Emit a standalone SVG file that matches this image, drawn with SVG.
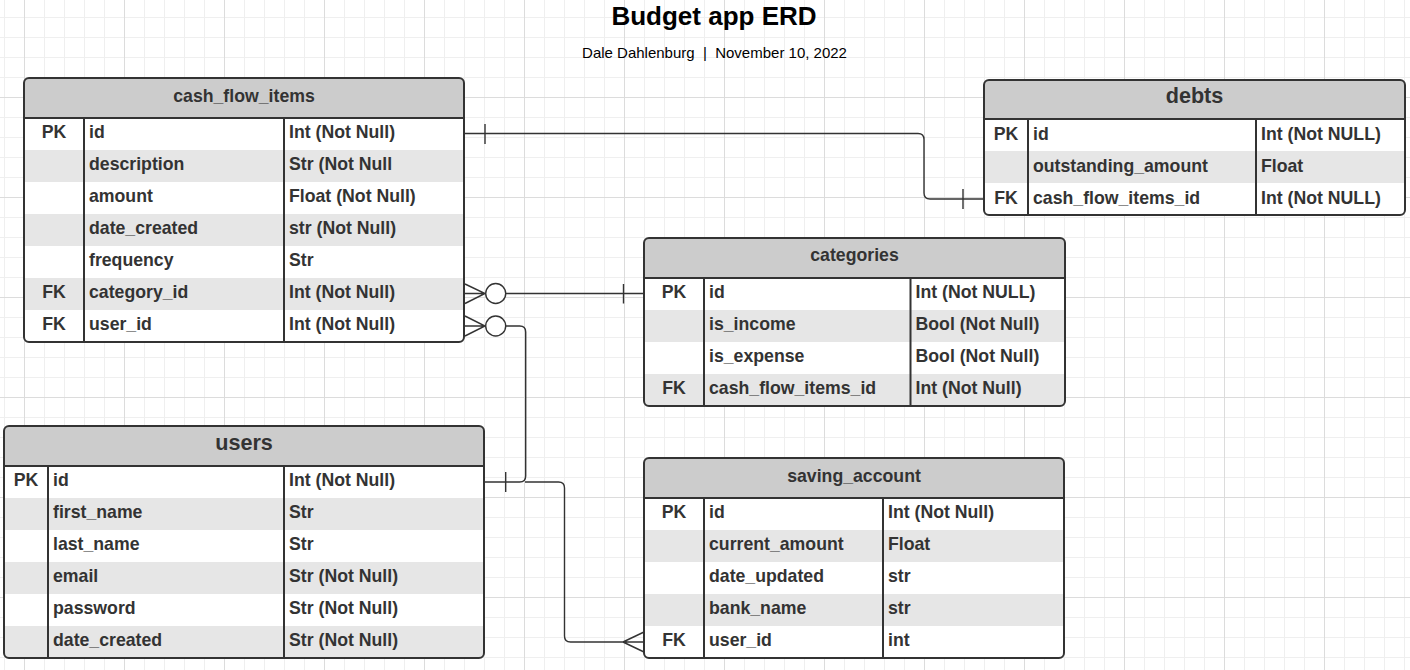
<svg xmlns="http://www.w3.org/2000/svg" width="1410" height="670" viewBox="0 0 1410 670">
<style>
.hdr{fill:#cccccc}
.alt{fill:#e6e6e6}
.frame{fill:none;stroke:#333;stroke-width:2}
.dv{stroke:#333;stroke-width:2;fill:none}
.t{font-family:"Liberation Sans",Arial,sans-serif;font-weight:bold;font-size:17.7px;fill:#333}
.big{font-size:21.6px}
.c{text-anchor:middle}
.conn{fill:none;stroke:#333;stroke-width:1.4}
.circ{fill:#fff;stroke:#333;stroke-width:1.4}
</style>
<defs>
<pattern id="minor" x="4" y="17" width="20" height="20" patternUnits="userSpaceOnUse">
<path d="M0.5 0V20M0 0.5H20" stroke="#efefef" stroke-width="1" fill="none"/>
</pattern>
<pattern id="major" x="24" y="97" width="100" height="100" patternUnits="userSpaceOnUse">
<path d="M0.5 0V100M0 0.5H100" stroke="#dcdcdc" stroke-width="1" fill="none"/>
</pattern>
<clipPath id="cpCash"><rect x="24" y="78" width="440" height="264" rx="5"/></clipPath>
<clipPath id="cpDebts"><rect x="984" y="80" width="421" height="135" rx="5"/></clipPath>
<clipPath id="cpCat"><rect x="644" y="238" width="421" height="168" rx="5"/></clipPath>
<clipPath id="cpUsers"><rect x="4" y="426" width="480" height="232" rx="5"/></clipPath>
<clipPath id="cpSave"><rect x="644" y="458" width="420" height="200" rx="5"/></clipPath>
</defs>
<rect width="1410" height="670" fill="#fff"/>
<rect width="1410" height="670" fill="url(#minor)"/>
<rect width="1410" height="670" fill="url(#major)"/>

<g id="title">
<text x="714" y="25" text-anchor="middle" style="font-family:'Liberation Sans',Arial,sans-serif;font-weight:bold;font-size:26px;fill:#000">Budget app ERD</text>
<text x="714.5" y="58" text-anchor="middle" style="font-family:'Liberation Sans',Arial,sans-serif;font-size:15px;fill:#000">Dale Dahlenburg &#160;|&#160; November 10, 2022</text>
</g>

<g id="connectors">
<!-- cash_flow_items.id to debts.cash_flow_items_id -->
<path class="conn" d="M464 133.5H918Q924 133.5 924 139.5V193Q924 199 930 199H984"/>
<path class="conn" d="M485 124V144M963 189V209"/>
<!-- cash_flow_items.category_id to categories.id -->
<path class="conn" d="M465 284L485 293.5L465 303.5M465 293.5H485M506 293.5H644M623.5 284V303.5"/>
<circle class="circ" cx="495.7" cy="293.5" r="10"/>
<!-- cash_flow_items.user_id to users.id -->
<path class="conn" d="M465 316L485 326L465 336M465 326H485M505.7 326H519.7Q525.7 326 525.7 332V476Q525.7 482 519.7 482H484"/>
<circle class="circ" cx="495.7" cy="326" r="10"/>
<path class="conn" d="M505.7 472V492"/>
<!-- users.id to saving_account.user_id -->
<path class="conn" d="M525 482H558.5Q564.5 482 564.5 488V636Q564.5 642 570.5 642H644M623 642L644 632M623 642L644 652"/>
</g>

<g id="cash_flow_items">
<rect x="24" y="78" width="440" height="264" rx="5" fill="#fff"/>
<g clip-path="url(#cpCash)">
<rect class="hdr" x="24" y="78" width="440" height="40"/>
<rect class="alt" x="24" y="150" width="440" height="32"/>
<rect class="alt" x="24" y="214" width="440" height="32"/>
<rect class="alt" x="24" y="278" width="440" height="32"/>
</g>
<path class="dv" d="M24 118H464M84 118V342M284 118V342"/>
<rect class="frame" x="24" y="78" width="440" height="264" rx="5"/>
<text class="t c" x="244" y="101.7">cash_flow_items</text>
<text class="t c" x="54" y="137.7">PK</text><text class="t" x="89" y="137.7">id</text><text class="t" x="289" y="137.7">Int (Not Null)</text>
<text class="t" x="89" y="169.7">description</text><text class="t" x="289" y="169.7">Str (Not Null</text>
<text class="t" x="89" y="201.7">amount</text><text class="t" x="289" y="201.7">Float (Not Null)</text>
<text class="t" x="89" y="233.7">date_created</text><text class="t" x="289" y="233.7">str (Not Null)</text>
<text class="t" x="89" y="265.7">frequency</text><text class="t" x="289" y="265.7">Str</text>
<text class="t c" x="54" y="297.7">FK</text><text class="t" x="89" y="297.7">category_id</text><text class="t" x="289" y="297.7">Int (Not Null)</text>
<text class="t c" x="54" y="329.7">FK</text><text class="t" x="89" y="329.7">user_id</text><text class="t" x="289" y="329.7">Int (Not Null)</text>
</g>

<g id="debts">
<rect x="984" y="80" width="421" height="135" rx="5" fill="#fff"/>
<g clip-path="url(#cpDebts)">
<rect class="hdr" x="984" y="80" width="421" height="39"/>
<rect class="alt" x="984" y="151" width="421" height="32"/>
</g>
<path class="dv" d="M984 119H1405M1028 119V215M1256 119V215"/>
<rect class="frame" x="984" y="80" width="421" height="135" rx="5"/>
<text class="t big c" x="1194.5" y="103.3">debts</text>
<text class="t c" x="1006" y="139.7">PK</text><text class="t" x="1033" y="139.7">id</text><text class="t" x="1261" y="139.7">Int (Not NULL)</text>
<text class="t" x="1033" y="171.7">outstanding_amount</text><text class="t" x="1261" y="171.7">Float</text>
<text class="t c" x="1006" y="203.7">FK</text><text class="t" x="1033" y="203.7">cash_flow_items_id</text><text class="t" x="1261" y="203.7">Int (Not NULL)</text>
</g>

<g id="categories">
<rect x="644" y="238" width="421" height="168" rx="5" fill="#fff"/>
<g clip-path="url(#cpCat)">
<rect class="hdr" x="644" y="238" width="421" height="40"/>
<rect class="alt" x="644" y="310" width="421" height="32"/>
<rect class="alt" x="644" y="374" width="421" height="32"/>
</g>
<path class="dv" d="M644 278H1065M704 278V406M910.5 278V406"/>
<rect class="frame" x="644" y="238" width="421" height="168" rx="5"/>
<text class="t c" x="854.5" y="261">categories</text>
<text class="t c" x="674" y="297.7">PK</text><text class="t" x="709" y="297.7">id</text><text class="t" x="915.5" y="297.7">Int (Not NULL)</text>
<text class="t" x="709" y="329.7">is_income</text><text class="t" x="915.5" y="329.7">Bool (Not Null)</text>
<text class="t" x="709" y="361.7">is_expense</text><text class="t" x="915.5" y="361.7">Bool (Not Null)</text>
<text class="t c" x="674" y="393.7">FK</text><text class="t" x="709" y="393.7">cash_flow_items_id</text><text class="t" x="915.5" y="393.7">Int (Not Null)</text>
</g>

<g id="users">
<rect x="4" y="426" width="480" height="232" rx="5" fill="#fff"/>
<g clip-path="url(#cpUsers)">
<rect class="hdr" x="4" y="426" width="480" height="40"/>
<rect class="alt" x="4" y="498" width="480" height="32"/>
<rect class="alt" x="4" y="562" width="480" height="32"/>
<rect class="alt" x="4" y="626" width="480" height="32"/>
</g>
<path class="dv" d="M4 466H484M48 466V658M284 466V658"/>
<rect class="frame" x="4" y="426" width="480" height="232" rx="5"/>
<text class="t big c" x="244" y="449.5">users</text>
<text class="t c" x="26" y="485.7">PK</text><text class="t" x="53" y="485.7">id</text><text class="t" x="289" y="485.7">Int (Not Null)</text>
<text class="t" x="53" y="517.7">first_name</text><text class="t" x="289" y="517.7">Str</text>
<text class="t" x="53" y="549.7">last_name</text><text class="t" x="289" y="549.7">Str</text>
<text class="t" x="53" y="581.7">email</text><text class="t" x="289" y="581.7">Str (Not Null)</text>
<text class="t" x="53" y="613.7">password</text><text class="t" x="289" y="613.7">Str (Not Null)</text>
<text class="t" x="53" y="645.7">date_created</text><text class="t" x="289" y="645.7">Str (Not Null)</text>
</g>

<g id="saving_account">
<rect x="644" y="458" width="420" height="200" rx="5" fill="#fff"/>
<g clip-path="url(#cpSave)">
<rect class="hdr" x="644" y="458" width="420" height="40"/>
<rect class="alt" x="644" y="530" width="420" height="32"/>
<rect class="alt" x="644" y="594" width="420" height="32"/>
</g>
<path class="dv" d="M644 498H1064M704 498V658M883 498V658"/>
<rect class="frame" x="644" y="458" width="420" height="200" rx="5"/>
<text class="t c" x="854" y="481.7">saving_account</text>
<text class="t c" x="674" y="517.7">PK</text><text class="t" x="709" y="517.7">id</text><text class="t" x="888" y="517.7">Int (Not Null)</text>
<text class="t" x="709" y="549.7">current_amount</text><text class="t" x="888" y="549.7">Float</text>
<text class="t" x="709" y="581.7">date_updated</text><text class="t" x="888" y="581.7">str</text>
<text class="t" x="709" y="613.7">bank_name</text><text class="t" x="888" y="613.7">str</text>
<text class="t c" x="674" y="645.7">FK</text><text class="t" x="709" y="645.7">user_id</text><text class="t" x="888" y="645.7">int</text>
</g>
</svg>
